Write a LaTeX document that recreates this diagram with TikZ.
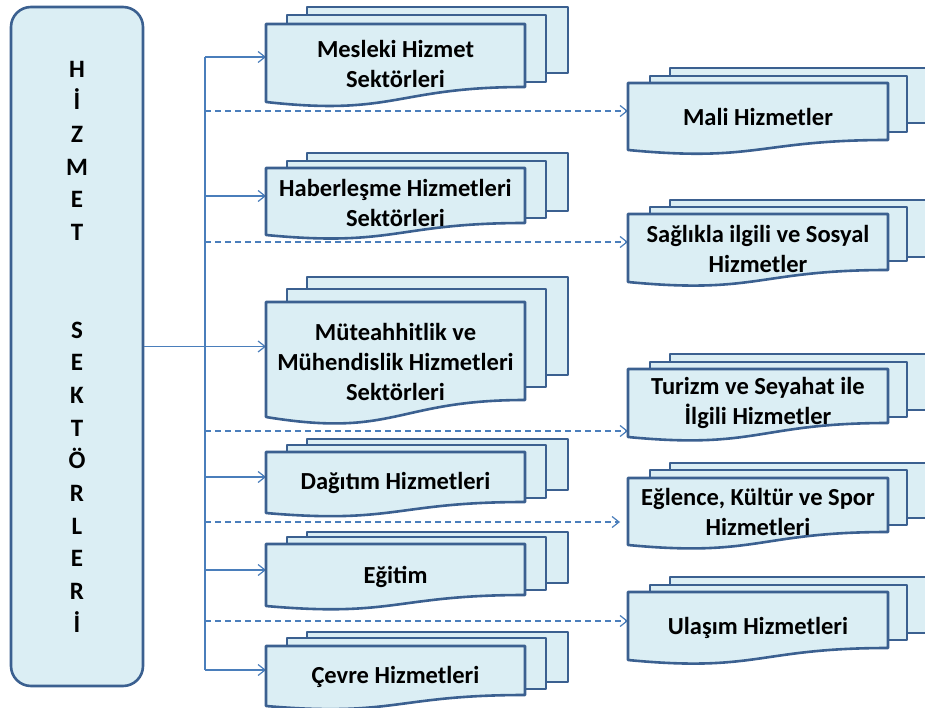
\documentclass[tikz,border=0pt]{standalone}
\usepackage{fontspec}
\setmainfont{Carlito}
\usetikzlibrary{arrows.meta}
\definecolor{boxline}{HTML}{3B6090}
\definecolor{boxfill}{HTML}{DBEEF4}
\definecolor{conn}{HTML}{4A7EBB}
\newcommand\setcol[6]{\def\xA{#1}\def\xB{#2}\def\xC{#3}\def\xD{#4}\def\xE{#5}\def\xF{#6}}
% t3 t2 t1 b3 b2 br bl
\newcommand\mdoc[7]{%
  \filldraw[docline] (\xE,#1) rectangle (\xF,#4);
  \filldraw[docline] (\xC,#2) rectangle (\xD,#5);
  \filldraw[docline] (\xA,#3) -- (\xB,#3) -- (\xB,#6)
    .. controls ({(\xA+\xB)/2},#6) and ({(\xA+\xB)/2},{#3+1.185*(#7-#3)}) .. (\xA,#7) -- cycle;
}
\begin{document}
\begin{tikzpicture}[x=1pt,y=-1pt,
  docline/.style={draw=boxline, fill=boxfill, line width=2.6pt, line join=round},
  doctext/.style={font=\fontsize{24.5}{30}\selectfont\bfseries, align=center, inner sep=0pt},
  mainbox/.style={draw=boxline, fill=boxfill, line width=2.6pt, rounded corners=20pt,
    minimum width=132pt, minimum height=679pt, inner sep=0pt, align=center,
    font=\fontsize{25}{32.65}\selectfont\bfseries},
  trunkline/.style={draw=conn, line width=1.2pt},
  solidarrow/.style={draw=conn, line width=1.2pt, -{Straight Barb[length=7pt,width=11pt]}},
  dasharrow/.style={solidarrow, dash pattern=on 6pt off 4pt}]
\useasboundingbox (0,0) rectangle (925,708);
\clip (0,0) rectangle (925,708);

% main box
\node[mainbox] (main) at (77,346.5) {H\\İ\\Z\\M\\E\\T\\ \\ \\S\\E\\K\\T\\Ö\\R\\L\\E\\R\\İ};

% junction coordinates on trunk
\coordinate (j1) at (205,57);
\coordinate (j2) at (205,196);
\coordinate (j3) at (205,346.5);
\coordinate (j4) at (205,477);
\coordinate (j5) at (205,570);
\coordinate (j6) at (205,670);
\coordinate (d1) at (205,111);
\coordinate (d2) at (205,242);
\coordinate (d3) at (205,431);
\coordinate (d4) at (205,522);
\coordinate (d5) at (205,621);
% box entry coordinates
\coordinate (mesleki-in) at (266,57);
\coordinate (haber-in) at (266,196);
\coordinate (muteahhit-in) at (266,346.5);
\coordinate (dagitim-in) at (266,477);
\coordinate (egitim-in) at (266,570);
\coordinate (cevre-in) at (266,670);
\coordinate (mali-in) at (628,111);
\coordinate (saglik-in) at (628,242);
\coordinate (turizm-in) at (628,431);
\coordinate (eglence-in) at (620,522);
\coordinate (ulasim-in) at (628,621);

% connectors
\draw[trunkline] (main.east) -- (j3);
\draw[trunkline] (j1) -- (j6);
\draw[solidarrow] (j1) -- (mesleki-in);
\draw[solidarrow] (j2) -- (haber-in);
\draw[solidarrow] (j3) -- (muteahhit-in);
\draw[solidarrow] (j4) -- (dagitim-in);
\draw[solidarrow] (j5) -- (egitim-in);
\draw[solidarrow] (j6) -- (cevre-in);
\draw[dasharrow] (d1) -- (mali-in);
\draw[dasharrow] (d2) -- (saglik-in);
\draw[dasharrow] (d3) -- (turizm-in);
\draw[dasharrow] (d4) -- (eglence-in);
\draw[dasharrow] (d5) -- (ulasim-in);

% left column documents
\setcol{266}{525}{287}{546}{307}{568}
\mdoc{7}{15}{24}{73}{82}{87}{102}
\mdoc{153}{161}{168}{211}{218}{223}{235}
\mdoc{277}{289}{302}{375}{387}{400}{417}
\mdoc{439}{445}{452}{490}{498}{502}{513}
\mdoc{532}{537}{544}{583}{590}{595}{606}
\mdoc{632}{638}{646}{682}{689}{695}{706}
% right column documents
\setcol{628}{888}{650}{907}{670}{945}
\mdoc{68}{76}{83}{123}{132}{140}{150}
\mdoc{200}{207}{214}{257}{261}{270}{282}
\mdoc{354}{362}{369}{410}{417}{423}{437}
\mdoc{463}{470}{478}{518}{525}{532}{545}
\mdoc{577}{585}{592}{633}{640}{648}{660}

% texts
\node[doctext] (mesleki) at (395.5,64) {Mesleki Hizmet\\Sektörleri};
\node[doctext] (haber) at (395.5,203) {Haberleşme Hizmetleri\\Sektörleri};
\node[doctext] (muteahhit) at (395.5,362) {Müteahhitlik ve\\Mühendislik Hizmetleri\\Sektörleri};
\node[doctext] (dagitim) at (395.5,483) {Dağıtım Hizmetleri};
\node[doctext] (egitim) at (395.5,577) {Eğitim};
\node[doctext] (cevre) at (395.5,677) {Çevre Hizmetleri};
\node[doctext] (mali) at (758,117) {Mali Hizmetler};
\node[doctext] (saglik) at (758,249) {Sağlıkla ilgili ve Sosyal\\Hizmetler};
\node[doctext] (turizm) at (758,403) {Turizm ve Seyahat ile\\İlgili Hizmetler};
\node[doctext] (eglence) at (758,512) {Eğlence, Kültür ve Spor\\Hizmetleri};
\node[doctext] (ulasim) at (758,628) {Ulaşım Hizmetleri};
\end{tikzpicture}
\end{document}
